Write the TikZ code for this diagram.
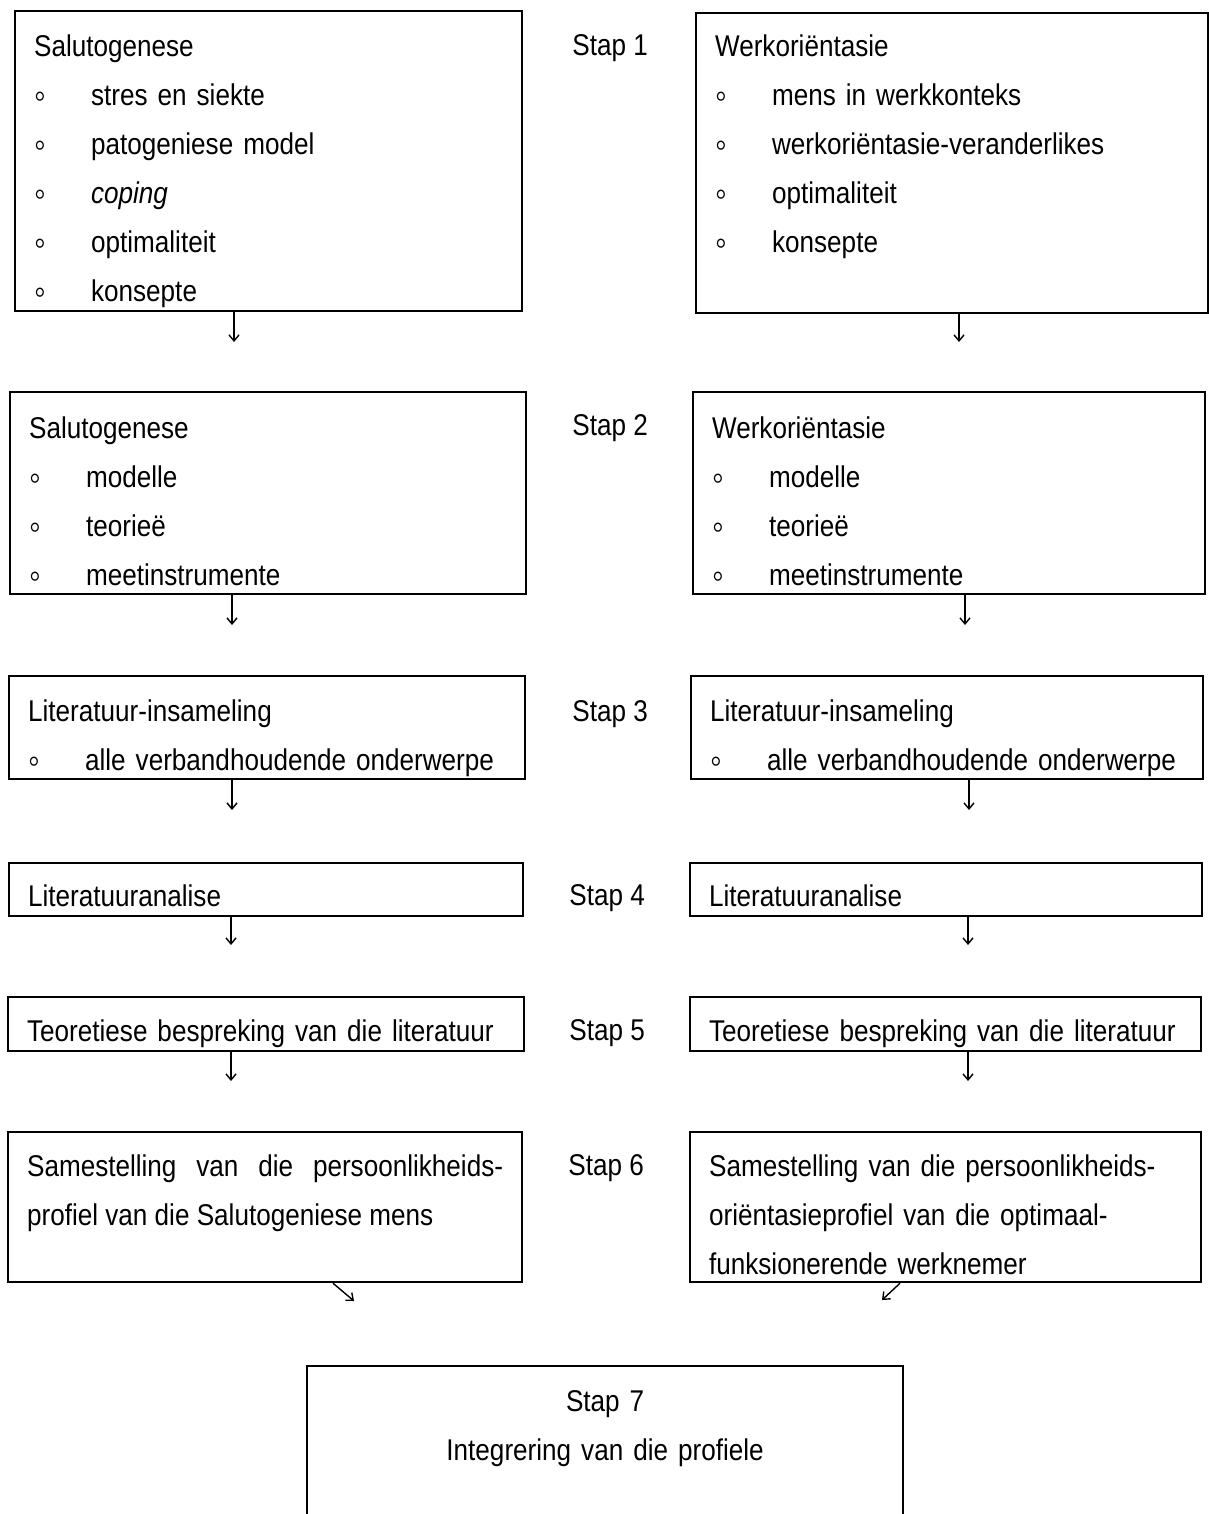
\documentclass[tikz,border=0pt]{standalone}
\usepackage{fontspec}
\setmainfont{Liberation Sans}[FakeStretch=0.87]
\usetikzlibrary{arrows.meta,positioning}
\newcommand{\bul}{\makebox[28.5pt][l]{\raisebox{-1.6pt}{\fontsize{19}{19}\selectfont ◦}}}
\newcommand{\boxfont}{\fontsize{15}{24.5}\selectfont\hyphenpenalty=10000\relax}
\tikzset{
  stepbox/.style={
    draw=black,
    line width=1.1pt,
    anchor=north west,
    inner xsep=9.5pt,
    inner ysep=0pt,
    align=left,
    font=\boxfont
  },
  steplabel/.style={
    anchor=base west,
    inner sep=0pt,
    font=\boxfont
  },
  arrow/.style={
    -{Straight Barb[length=3pt,width=5pt]},
    line width=0.7pt
  }
}

\begin{document}
\begin{tikzpicture}[x=0.5pt,y=-0.5pt]
  \useasboundingbox (0,0) rectangle (1209,1514);

  % stap 1
  \node[stepbox, text width=234.5pt, text height=22.5pt, text depth=127.5pt] (s1l) at (14,10)
    {Salutogenese\\\bul stres en siekte\\\bul patogeniese model\\\bul \textit{coping}\\\bul optimaliteit\\\bul konsepte};
  \node[stepbox, text width=237pt, text height=21.5pt, text depth=128.5pt] (s1r) at (695,12)
    {Werkoriëntasie\\\bul mens in werkkonteks\\\bul werkoriëntasie-veranderlikes\\\bul optimaliteit\\\bul konsepte};
  \node[steplabel] (stap1) at (572,56) {Stap 1};

  % stap 2
  \node[stepbox, text width=239pt, text height=23pt, text depth=78pt] (s2l) at (9,391)
    {Salutogenese\\\bul modelle\\\bul teorieë\\\bul meetinstrumente};
  \node[stepbox, text width=237pt, text height=23pt, text depth=78pt] (s2r) at (692,391)
    {Werkoriëntasie\\\bul modelle\\\bul teorieë\\\bul meetinstrumente};
  \node[steplabel] (stap2) at (572,435) {Stap 2};

  % stap 3
  \node[stepbox, text width=239pt, text height=22.5pt, text depth=29pt] (s3l) at (8,675)
    {Literatuur-insameling\\\bul alle verbandhoudende onderwerpe};
  \node[stepbox, text width=237pt, text height=22.5pt, text depth=29pt] (s3r) at (690,675)
    {Literatuur-insameling\\\bul alle verbandhoudende onderwerpe};
  \node[steplabel] (stap3) at (572,721) {Stap 3};

  % stap 4
  \node[stepbox, text width=238pt, text height=21.5pt, text depth=5pt] (s4l) at (8,862) {Literatuuranalise};
  \node[stepbox, text width=237pt, text height=21.5pt, text depth=5pt] (s4r) at (689,862) {Literatuuranalise};
  \node[steplabel] (stap4) at (569,905) {Stap 4};

  % stap 5
  \node[stepbox, text width=239pt, text height=22pt, text depth=5pt] (s5l) at (7,996)
    {Teoretiese bespreking van die literatuur};
  \node[stepbox, text width=236.5pt, text height=22pt, text depth=5pt] (s5r) at (689,996)
    {Teoretiese bespreking van die literatuur};
  \node[steplabel] (stap5) at (569,1040) {Stap 5};

  % stap 6
  \node[stepbox, align=justify, text width=238pt, text height=22pt, text depth=53pt] (s6l) at (7,1131)
    {Samestelling van die persoonlikheids-\linebreak profiel van die Salutogeniese mens};
  \node[stepbox, text width=236.5pt, text height=22pt, text depth=53pt] (s6r) at (689,1131)
    {Samestelling van die persoonlikheids-\\oriëntasieprofiel van die optimaal-\\funksionerende werknemer};
  \node[steplabel] (stap6) at (568,1175) {Stap 6};

  % stap 7, bottom edge falls off the page
  \node[stepbox, draw=none, align=center, text width=278pt, text height=22pt, text depth=53pt] (s7) at (307,1366)
    {Stap 7\\Integrering van die profiele};
  \draw[line width=1.1pt] (s7.south west) |- (s7.north east) -- (s7.south east);

  \coordinate (e1l) at (234,342);
  \coordinate (e1r) at (959,342);
  \coordinate (e2l) at (232,625);
  \coordinate (e2r) at (965,625);
  \coordinate (e3l) at (232,810);
  \coordinate (e3r) at (969,810);
  \coordinate (e4l) at (231,945);
  \coordinate (e4r) at (968,945);
  \coordinate (e5l) at (231,1081);
  \coordinate (e5r) at (968,1081);
  \coordinate (e6l) at (354,1301);
  \coordinate (e6r) at (882,1300);

  \draw[arrow] (s1l.south -| e1l) -- (e1l);
  \draw[arrow] (s1r.south -| e1r) -- (e1r);
  \draw[arrow] (s2l.south -| e2l) -- (e2l);
  \draw[arrow] (s2r.south -| e2r) -- (e2r);
  \draw[arrow] (s3l.south -| e3l) -- (e3l);
  \draw[arrow] (s3r.south -| e3r) -- (e3r);
  \draw[arrow] (s4l.south -| e4l) -- (e4l);
  \draw[arrow] (s4r.south -| e4r) -- (e4r);
  \draw[arrow] (s5l.south -| e5l) -- (e5l);
  \draw[arrow] (s5r.south -| e5r) -- (e5r);
  \draw[arrow] ([xshift=163pt]s6l.south west) -- (e6l);
  \draw[arrow] ([xshift=105.5pt]s6r.south west) -- (e6r);
\end{tikzpicture}
\end{document}
